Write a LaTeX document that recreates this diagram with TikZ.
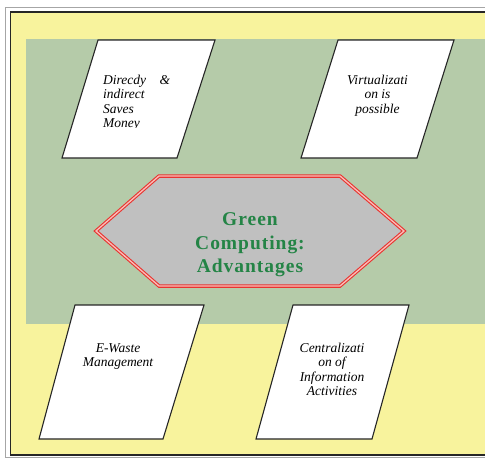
\documentclass[tikz,border=0pt]{standalone}
\usepackage{fontspec}
\setmainfont{Liberation Serif}
\newfontfamily\titlefont[LetterSpace=5]{Liberation Serif}
\definecolor{bgyellow}{RGB}{248,243,157}
\definecolor{bggreen}{RGB}{181,203,169}
\definecolor{hexred}{RGB}{232,52,48}
\definecolor{hexpink}{RGB}{250,190,185}
\definecolor{hexgrey}{RGB}{192,192,192}
\definecolor{titlegreen}{RGB}{36,132,70}
\tikzset{
  para/.style={fill=white, draw=black!85, line width=1.1pt, line join=miter},
  hexa/.style={fill=hexgrey, draw=hexred, line width=1.1pt, double=hexpink, double distance=1.3pt},
  ptext/.style={inner sep=0pt, font=\itshape\fontsize{13.5}{14.5}\selectfont, align=center},
  ttext/.style={inner sep=0pt, text=titlegreen, font=\titlefont\bfseries\fontsize{19.5}{23.5}\selectfont, align=center}
}
\begin{document}
\begin{tikzpicture}[x=1pt,y=-1pt]
\useasboundingbox (0,0) rectangle (485,459);
\fill[white] (0,0) rectangle (485,459);
% frame
\draw[gray!70, line width=1pt] (5,7) rectangle (495,457.5);
\draw[fill=bgyellow, draw=black!85, line width=1.2pt] (10.5,12) rectangle (495,455);
\fill[bggreen] (26,39) rectangle (490,324);
% parallelograms
\draw[para] (98,40) -- (215,40) -- (177,158) -- (62,158) -- cycle;
\draw[para] (338,40) -- (454,40) -- (417,158) -- (301,158) -- cycle;
\draw[para] (75,305) -- (204,305) -- (163,439) -- (39,439) -- cycle;
\draw[para] (293,305) -- (409,305) -- (372,439) -- (256,439) -- cycle;
% hexagon
\draw[hexa] (96,231) -- (159,176) -- (340,176) -- (404,231) -- (340,286) -- (159,286) -- cycle;
\node[ttext] (title) at (250,245) {Green\\Computing:\\Advantages};
% texts
\begin{scope}
  \clip (60,40) rectangle (220,127.5);
  \node[ptext, align=left, anchor=west] (t1) at (103,102.7) {\makebox[67pt]{Direcdy\hfill\&}\\indirect\\Saves\\Money};
\end{scope}
\node[ptext] (t2) at (377.5,95.4) {Virtualizati\\on is\\possible};
\node[ptext] (t3) at (118,356.3) {E-Waste\\Management};
\node[ptext] (t4) at (332,369.2) {Centralizati\\on of\\Information\\Activities};
\end{tikzpicture}
\end{document}
